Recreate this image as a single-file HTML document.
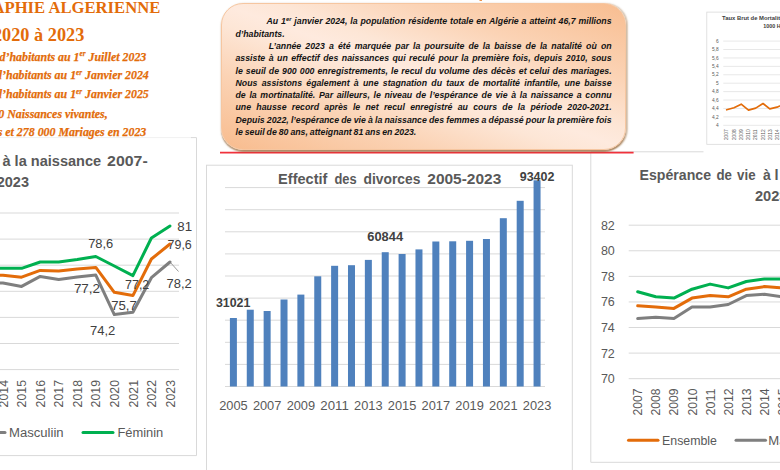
<!DOCTYPE html>
<html><head><meta charset="utf-8"><title>Démographie algérienne</title>
<style>
html,body{margin:0;padding:0;background:#fff;}
#page{position:relative;width:780px;height:470px;overflow:hidden;background:#fff;font-family:"Liberation Sans",sans-serif;}
#page svg{position:absolute;left:0;top:0;}
svg text{font-family:"Liberation Sans",sans-serif;}
svg .sf text{font-family:"Liberation Serif",serif;}
#box{position:absolute;left:221px;top:3px;width:404.5px;height:146.5px;border:1px solid #F6C6A0;border-radius:22px;box-sizing:border-box;
 background:linear-gradient(to top right,#F8BC8E 0%,#FBD3B5 26%,#FDE6D6 43%,#FEEADE 50%,#FDE6D6 57%,#FBD3B5 74%,#F8BD90 100%);
 box-shadow:0 2px 1.5px rgba(140,90,40,0.6),1.5px 0.5px 1.5px rgba(150,100,50,0.35);}
.pl{position:absolute;white-space:nowrap;font-size:8.75px;line-height:12px;height:12px;font-weight:bold;font-style:italic;color:#141414;word-spacing:-0.5px;}
.pl sup{font-size:5.8px;line-height:0;vertical-align:3px;}
</style></head>
<body><div id="page">
<svg width="780" height="470" viewBox="0 0 780 470">
<rect x="706.8" y="12.1" width="100" height="132.2" fill="#fff" stroke="#D9D9D9" stroke-width="0.8"/>
<line x1="723.3" x2="790" y1="41.10" y2="41.10" stroke="#D9D9D9" stroke-width="0.6"/>
<text x="718.6" y="42.80" font-size="4.8" fill="#595959" text-anchor="end">6</text>
<line x1="723.3" x2="790" y1="49.52" y2="49.52" stroke="#D9D9D9" stroke-width="0.6"/>
<text x="718.6" y="51.22" font-size="4.8" fill="#595959" text-anchor="end">5,8</text>
<line x1="723.3" x2="790" y1="57.94" y2="57.94" stroke="#D9D9D9" stroke-width="0.6"/>
<text x="718.6" y="59.64" font-size="4.8" fill="#595959" text-anchor="end">5,6</text>
<line x1="723.3" x2="790" y1="66.36" y2="66.36" stroke="#D9D9D9" stroke-width="0.6"/>
<text x="718.6" y="68.06" font-size="4.8" fill="#595959" text-anchor="end">5,4</text>
<line x1="723.3" x2="790" y1="74.78" y2="74.78" stroke="#D9D9D9" stroke-width="0.6"/>
<text x="718.6" y="76.48" font-size="4.8" fill="#595959" text-anchor="end">5,2</text>
<line x1="723.3" x2="790" y1="83.20" y2="83.20" stroke="#D9D9D9" stroke-width="0.6"/>
<text x="718.6" y="84.90" font-size="4.8" fill="#595959" text-anchor="end">5</text>
<line x1="723.3" x2="790" y1="91.62" y2="91.62" stroke="#D9D9D9" stroke-width="0.6"/>
<text x="718.6" y="93.32" font-size="4.8" fill="#595959" text-anchor="end">4,8</text>
<line x1="723.3" x2="790" y1="100.04" y2="100.04" stroke="#D9D9D9" stroke-width="0.6"/>
<text x="718.6" y="101.74" font-size="4.8" fill="#595959" text-anchor="end">4,6</text>
<line x1="723.3" x2="790" y1="108.46" y2="108.46" stroke="#D9D9D9" stroke-width="0.6"/>
<text x="718.6" y="110.16" font-size="4.8" fill="#595959" text-anchor="end">4,4</text>
<line x1="723.3" x2="790" y1="116.88" y2="116.88" stroke="#D9D9D9" stroke-width="0.6"/>
<text x="718.6" y="118.58" font-size="4.8" fill="#595959" text-anchor="end">4,2</text>
<line x1="723.3" x2="790" y1="125.30" y2="125.30" stroke="#D9D9D9" stroke-width="0.6"/>
<text x="718.6" y="127.00" font-size="4.8" fill="#595959" text-anchor="end">4</text>
<text x="722.1" y="19.6" font-size="5.4" font-weight="bold" fill="#404040" textLength="78" lengthAdjust="spacingAndGlyphs">Taux Brut de Mortalité (pour</text>
<text x="763.3" y="27.6" font-size="5.4" font-weight="bold" fill="#404040">1000 Hab.)</text>
<polyline points="726.7,109.8 734,107.7 741.2,104.2 748.5,110.1 755.7,108.1 763,103.5 769.8,108.9 777,107.2 784.2,104" fill="none" stroke="#E36C0A" stroke-width="1.7" stroke-linejoin="round" stroke-linecap="round"/>
<text transform="translate(728.4,140.1) rotate(-90)" font-size="4.8" fill="#595959" textLength="10.7" lengthAdjust="spacingAndGlyphs">2007</text>
<text transform="translate(735.7,140.1) rotate(-90)" font-size="4.8" fill="#595959" textLength="10.7" lengthAdjust="spacingAndGlyphs">2008</text>
<text transform="translate(742.9,140.1) rotate(-90)" font-size="4.8" fill="#595959" textLength="10.7" lengthAdjust="spacingAndGlyphs">2009</text>
<text transform="translate(750.2,140.1) rotate(-90)" font-size="4.8" fill="#595959" textLength="10.7" lengthAdjust="spacingAndGlyphs">2010</text>
<text transform="translate(757.4,140.1) rotate(-90)" font-size="4.8" fill="#595959" textLength="10.7" lengthAdjust="spacingAndGlyphs">2011</text>
<text transform="translate(764.7,140.1) rotate(-90)" font-size="4.8" fill="#595959" textLength="10.7" lengthAdjust="spacingAndGlyphs">2012</text>
<text transform="translate(771.5,140.1) rotate(-90)" font-size="4.8" fill="#595959" textLength="10.7" lengthAdjust="spacingAndGlyphs">2013</text>
<text transform="translate(778.7,140.1) rotate(-90)" font-size="4.8" fill="#595959" textLength="10.7" lengthAdjust="spacingAndGlyphs">2014</text>
<text transform="translate(785.9,140.1) rotate(-90)" font-size="4.8" fill="#595959" textLength="10.7" lengthAdjust="spacingAndGlyphs">2015</text>
<path d="M590.8 152 V462.3 H800" fill="none" stroke="#D9D9D9" stroke-width="1"/>
<line x1="590.8" x2="703.5" y1="151.8" y2="151.8" stroke="#D9D9D9" stroke-width="1"/>
<line x1="628.7" x2="800" y1="225.20" y2="225.20" stroke="#D9D9D9" stroke-width="1"/>
<text x="614.8" y="229.70" font-size="12.5" fill="#595959" text-anchor="end">82</text>
<line x1="628.7" x2="800" y1="250.78" y2="250.78" stroke="#D9D9D9" stroke-width="1"/>
<text x="614.8" y="255.28" font-size="12.5" fill="#595959" text-anchor="end">80</text>
<line x1="628.7" x2="800" y1="276.36" y2="276.36" stroke="#D9D9D9" stroke-width="1"/>
<text x="614.8" y="280.86" font-size="12.5" fill="#595959" text-anchor="end">78</text>
<line x1="628.7" x2="800" y1="301.94" y2="301.94" stroke="#D9D9D9" stroke-width="1"/>
<text x="614.8" y="306.44" font-size="12.5" fill="#595959" text-anchor="end">76</text>
<line x1="628.7" x2="800" y1="327.52" y2="327.52" stroke="#D9D9D9" stroke-width="1"/>
<text x="614.8" y="332.02" font-size="12.5" fill="#595959" text-anchor="end">74</text>
<line x1="628.7" x2="800" y1="353.10" y2="353.10" stroke="#D9D9D9" stroke-width="1"/>
<text x="614.8" y="357.60" font-size="12.5" fill="#595959" text-anchor="end">72</text>
<line x1="628.7" x2="800" y1="378.68" y2="378.68" stroke="#D9D9D9" stroke-width="1"/>
<text x="614.8" y="383.18" font-size="12.5" fill="#595959" text-anchor="end">70</text>
<polyline points="637.7,318.6 655.8,317.3 673.9,318.6 692.0,307.1 710.1,307.1 728.2,304.5 746.3,295.6 764.4,294.3 782.5,296.8" fill="none" stroke="#7F7F7F" stroke-width="3" stroke-linejoin="round" stroke-linecap="round"/>
<polyline points="637.7,305.8 655.8,307.1 673.9,308.4 692.0,298.1 710.1,295.6 728.2,296.8 746.3,289.2 764.4,286.6 782.5,287.9" fill="none" stroke="#E36C0A" stroke-width="3" stroke-linejoin="round" stroke-linecap="round"/>
<polyline points="637.7,291.7 655.8,296.8 673.9,298.1 692.0,289.2 710.1,284.1 728.2,287.9 746.3,281.5 764.4,278.9 782.5,278.9" fill="none" stroke="#00B050" stroke-width="3" stroke-linejoin="round" stroke-linecap="round"/>
<text transform="translate(642.2,415.4) rotate(-90)" font-size="12.5" fill="#595959" textLength="27" lengthAdjust="spacingAndGlyphs">2007</text>
<text transform="translate(660.3,415.4) rotate(-90)" font-size="12.5" fill="#595959" textLength="27" lengthAdjust="spacingAndGlyphs">2008</text>
<text transform="translate(678.4,415.4) rotate(-90)" font-size="12.5" fill="#595959" textLength="27" lengthAdjust="spacingAndGlyphs">2009</text>
<text transform="translate(696.5,415.4) rotate(-90)" font-size="12.5" fill="#595959" textLength="27" lengthAdjust="spacingAndGlyphs">2010</text>
<text transform="translate(714.6,415.4) rotate(-90)" font-size="12.5" fill="#595959" textLength="27" lengthAdjust="spacingAndGlyphs">2011</text>
<text transform="translate(732.7,415.4) rotate(-90)" font-size="12.5" fill="#595959" textLength="27" lengthAdjust="spacingAndGlyphs">2012</text>
<text transform="translate(750.8,415.4) rotate(-90)" font-size="12.5" fill="#595959" textLength="27" lengthAdjust="spacingAndGlyphs">2013</text>
<text transform="translate(768.9,415.4) rotate(-90)" font-size="12.5" fill="#595959" textLength="27" lengthAdjust="spacingAndGlyphs">2014</text>
<text transform="translate(787.0,415.4) rotate(-90)" font-size="12.5" fill="#595959" textLength="27" lengthAdjust="spacingAndGlyphs">2015</text>
<text x="639.5" y="179.7" font-size="14.6" font-weight="bold" fill="#595959" textLength="71.5" lengthAdjust="spacingAndGlyphs">Espérance</text>
<text x="716.4" y="179.7" font-size="14.6" font-weight="bold" fill="#595959" textLength="15.5" lengthAdjust="spacingAndGlyphs">de</text>
<text x="737.1" y="179.7" font-size="14.6" font-weight="bold" fill="#595959" textLength="18.5" lengthAdjust="spacingAndGlyphs">vie</text>
<text x="763.1" y="179.7" font-size="14.6" font-weight="bold" fill="#595959" textLength="7.8" lengthAdjust="spacingAndGlyphs">à</text>
<text x="774.6" y="179.7" font-size="14.6" font-weight="bold" fill="#595959">l</text>
<text x="755" y="200.8" font-size="14.6" font-weight="bold" fill="#595959">2023</text>
<line x1="628.5" x2="658" y1="440.3" y2="440.3" stroke="#E36C0A" stroke-width="3" stroke-linecap="round"/>
<text x="662" y="444.8" font-size="12.5" fill="#595959" textLength="55" lengthAdjust="spacingAndGlyphs">Ensemble</text>
<line x1="736" x2="765.5" y1="440.3" y2="440.3" stroke="#7F7F7F" stroke-width="3" stroke-linecap="round"/>
<text x="768.3" y="444.8" font-size="12.5" fill="#595959" textLength="54.6" lengthAdjust="spacingAndGlyphs">Masculiin</text>
<rect x="206.5" y="165.2" width="365.8" height="330" fill="#fff" stroke="#D9D9D9" stroke-width="1"/>
<line x1="225" x2="545" y1="187.60" y2="187.60" stroke="#D9D9D9" stroke-width="1"/>
<line x1="225" x2="545" y1="209.70" y2="209.70" stroke="#D9D9D9" stroke-width="1"/>
<line x1="225" x2="545" y1="231.80" y2="231.80" stroke="#D9D9D9" stroke-width="1"/>
<line x1="225" x2="545" y1="253.90" y2="253.90" stroke="#D9D9D9" stroke-width="1"/>
<line x1="225" x2="545" y1="276.00" y2="276.00" stroke="#D9D9D9" stroke-width="1"/>
<line x1="225" x2="545" y1="298.10" y2="298.10" stroke="#D9D9D9" stroke-width="1"/>
<line x1="225" x2="545" y1="320.20" y2="320.20" stroke="#D9D9D9" stroke-width="1"/>
<line x1="225" x2="545" y1="342.30" y2="342.30" stroke="#D9D9D9" stroke-width="1"/>
<line x1="225" x2="545" y1="364.40" y2="364.40" stroke="#D9D9D9" stroke-width="1"/>
<line x1="225" x2="545" y1="386.50" y2="386.50" stroke="#D9D9D9" stroke-width="1"/>
<rect x="229.90" y="318" width="7" height="68.5" fill="#4F81BD"/>
<rect x="246.77" y="309.7" width="7" height="76.8" fill="#4F81BD"/>
<rect x="263.64" y="311" width="7" height="75.5" fill="#4F81BD"/>
<rect x="280.51" y="299.5" width="7" height="87.0" fill="#4F81BD"/>
<rect x="297.38" y="294.6" width="7" height="91.9" fill="#4F81BD"/>
<rect x="314.25" y="276.3" width="7" height="110.2" fill="#4F81BD"/>
<rect x="331.12" y="265.8" width="7" height="120.7" fill="#4F81BD"/>
<rect x="347.99" y="265.2" width="7" height="121.3" fill="#4F81BD"/>
<rect x="364.86" y="259.9" width="7" height="126.6" fill="#4F81BD"/>
<rect x="381.73" y="252.2" width="7" height="134.3" fill="#4F81BD"/>
<rect x="398.60" y="254" width="7" height="132.5" fill="#4F81BD"/>
<rect x="415.47" y="249.4" width="7" height="137.1" fill="#4F81BD"/>
<rect x="432.34" y="241.5" width="7" height="145.0" fill="#4F81BD"/>
<rect x="449.21" y="241.3" width="7" height="145.2" fill="#4F81BD"/>
<rect x="466.08" y="240.8" width="7" height="145.7" fill="#4F81BD"/>
<rect x="482.95" y="239" width="7" height="147.5" fill="#4F81BD"/>
<rect x="499.82" y="218.2" width="7" height="168.3" fill="#4F81BD"/>
<rect x="516.69" y="200.8" width="7" height="185.7" fill="#4F81BD"/>
<rect x="533.56" y="180.3" width="7" height="206.2" fill="#4F81BD"/>
<text x="219.15" y="410.3" font-size="13" fill="#595959" textLength="28.5" lengthAdjust="spacingAndGlyphs">2005</text>
<text x="252.89" y="410.3" font-size="13" fill="#595959" textLength="28.5" lengthAdjust="spacingAndGlyphs">2007</text>
<text x="286.63" y="410.3" font-size="13" fill="#595959" textLength="28.5" lengthAdjust="spacingAndGlyphs">2009</text>
<text x="320.37" y="410.3" font-size="13" fill="#595959" textLength="28.5" lengthAdjust="spacingAndGlyphs">2011</text>
<text x="354.11" y="410.3" font-size="13" fill="#595959" textLength="28.5" lengthAdjust="spacingAndGlyphs">2013</text>
<text x="387.85" y="410.3" font-size="13" fill="#595959" textLength="28.5" lengthAdjust="spacingAndGlyphs">2015</text>
<text x="421.59" y="410.3" font-size="13" fill="#595959" textLength="28.5" lengthAdjust="spacingAndGlyphs">2017</text>
<text x="455.33" y="410.3" font-size="13" fill="#595959" textLength="28.5" lengthAdjust="spacingAndGlyphs">2019</text>
<text x="489.07" y="410.3" font-size="13" fill="#595959" textLength="28.5" lengthAdjust="spacingAndGlyphs">2021</text>
<text x="522.81" y="410.3" font-size="13" fill="#595959" textLength="28.5" lengthAdjust="spacingAndGlyphs">2023</text>
<text x="278.09999999999997" y="183.8" font-size="14.5" font-weight="bold" fill="#595959" textLength="49.3" lengthAdjust="spacingAndGlyphs">Effectif</text>
<text x="334.4" y="183.8" font-size="14.5" font-weight="bold" fill="#595959" textLength="22.2" lengthAdjust="spacingAndGlyphs">des</text>
<text x="363.59999999999997" y="183.8" font-size="14.5" font-weight="bold" fill="#595959" textLength="56.8" lengthAdjust="spacingAndGlyphs">divorces</text>
<text x="427.29999999999995" y="183.8" font-size="14.5" font-weight="bold" fill="#595959" textLength="74.0" lengthAdjust="spacingAndGlyphs">2005-2023</text>
<text x="215.9" y="307.2" font-size="12.5" font-weight="bold" fill="#404040" textLength="34.4" lengthAdjust="spacingAndGlyphs">31021</text>
<text x="367.3" y="240.6" font-size="12.5" font-weight="bold" fill="#404040" textLength="35.8" lengthAdjust="spacingAndGlyphs">60844</text>
<text x="519.7" y="180.8" font-size="12.5" font-weight="bold" fill="#404040" textLength="34.7" lengthAdjust="spacingAndGlyphs">93402</text>
<path d="M-20 137.6 H192" fill="none" stroke="#F1F1F1" stroke-width="1"/>
<path d="M191 137.6 H196.5 V455.6 H-20" fill="none" stroke="#D9D9D9" stroke-width="1"/>
<line x1="-20" x2="179" y1="213.00" y2="213.00" stroke="#D9D9D9" stroke-width="1"/>
<line x1="-20" x2="179" y1="239.10" y2="239.10" stroke="#D9D9D9" stroke-width="1"/>
<line x1="-20" x2="179" y1="265.20" y2="265.20" stroke="#D9D9D9" stroke-width="1"/>
<line x1="-20" x2="179" y1="291.30" y2="291.30" stroke="#D9D9D9" stroke-width="1"/>
<line x1="-20" x2="179" y1="317.40" y2="317.40" stroke="#D9D9D9" stroke-width="1"/>
<line x1="-20" x2="179" y1="343.50" y2="343.50" stroke="#D9D9D9" stroke-width="1"/>
<line x1="-20" x2="179" y1="369.60" y2="369.60" stroke="#D9D9D9" stroke-width="1"/>
<line x1="170" y1="262" x2="178.5" y2="271.5" stroke="#9A9A9A" stroke-width="1"/>
<polyline points="-15.5,282.3 3.0,283 21.6,286.4 40.2,276.4 58.7,279.5 77.2,277 95.8,275.1 114.3,314.6 132.9,312.3 151.4,277.7 170.0,262" fill="none" stroke="#7F7F7F" stroke-width="3" stroke-linejoin="round" stroke-linecap="round"/>
<polyline points="-15.5,276.2 3.0,275.2 21.6,277.2 40.2,270.4 58.7,270.9 77.2,268.9 95.8,267.4 114.3,292.3 132.9,295.6 151.4,259 170.0,244" fill="none" stroke="#E36C0A" stroke-width="3" stroke-linejoin="round" stroke-linecap="round"/>
<polyline points="-15.5,268.5 3.0,268.3 21.6,268.3 40.2,262 58.7,262 77.2,259.6 95.8,256.5 114.3,266 132.9,275.6 151.4,238 170.0,226" fill="none" stroke="#00B050" stroke-width="3" stroke-linejoin="round" stroke-linecap="round"/>
<text x="88.2" y="248.2" font-size="13" fill="#404040" textLength="25.1" lengthAdjust="spacingAndGlyphs">78,6</text>
<text x="167.6" y="249.1" font-size="13" fill="#404040" textLength="24.2" lengthAdjust="spacingAndGlyphs">79,6</text>
<text x="125.0" y="289" font-size="13" fill="#404040" textLength="24.3" lengthAdjust="spacingAndGlyphs">77,2</text>
<text x="73.9" y="293.2" font-size="13" fill="#404040" textLength="26.2" lengthAdjust="spacingAndGlyphs">77,2</text>
<text x="111.2" y="310" font-size="13" fill="#404040" textLength="25.7" lengthAdjust="spacingAndGlyphs">75,7</text>
<text x="166.6" y="287.8" font-size="13" fill="#404040" textLength="25.2" lengthAdjust="spacingAndGlyphs">78,2</text>
<text x="89.9" y="334.6" font-size="13" fill="#404040" textLength="25.4" lengthAdjust="spacingAndGlyphs">74,2</text>
<text x="177.3" y="230.6" font-size="13" fill="#404040" textLength="14.8" lengthAdjust="spacingAndGlyphs">81</text>
<text transform="translate(-10.9,407.4) rotate(-90)" font-size="12.5" fill="#595959" textLength="27.4" lengthAdjust="spacingAndGlyphs">2013</text>
<text transform="translate(7.6,407.4) rotate(-90)" font-size="12.5" fill="#595959" textLength="27.4" lengthAdjust="spacingAndGlyphs">2014</text>
<text transform="translate(26.2,407.4) rotate(-90)" font-size="12.5" fill="#595959" textLength="27.4" lengthAdjust="spacingAndGlyphs">2015</text>
<text transform="translate(44.8,407.4) rotate(-90)" font-size="12.5" fill="#595959" textLength="27.4" lengthAdjust="spacingAndGlyphs">2016</text>
<text transform="translate(63.3,407.4) rotate(-90)" font-size="12.5" fill="#595959" textLength="27.4" lengthAdjust="spacingAndGlyphs">2017</text>
<text transform="translate(81.8,407.4) rotate(-90)" font-size="12.5" fill="#595959" textLength="27.4" lengthAdjust="spacingAndGlyphs">2018</text>
<text transform="translate(100.4,407.4) rotate(-90)" font-size="12.5" fill="#595959" textLength="27.4" lengthAdjust="spacingAndGlyphs">2019</text>
<text transform="translate(118.9,407.4) rotate(-90)" font-size="12.5" fill="#595959" textLength="27.4" lengthAdjust="spacingAndGlyphs">2020</text>
<text transform="translate(137.5,407.4) rotate(-90)" font-size="12.5" fill="#595959" textLength="27.4" lengthAdjust="spacingAndGlyphs">2021</text>
<text transform="translate(156.0,407.4) rotate(-90)" font-size="12.5" fill="#595959" textLength="27.4" lengthAdjust="spacingAndGlyphs">2022</text>
<text transform="translate(174.6,407.4) rotate(-90)" font-size="12.5" fill="#595959" textLength="27.4" lengthAdjust="spacingAndGlyphs">2023</text>
<line x1="-20" x2="5" y1="432.5" y2="432.5" stroke="#7F7F7F" stroke-width="3" stroke-linecap="round"/>
<text x="9" y="437" font-size="12.5" fill="#595959" textLength="54.6" lengthAdjust="spacingAndGlyphs">Masculiin</text>
<line x1="83" x2="113" y1="432.5" y2="432.5" stroke="#00B050" stroke-width="3" stroke-linecap="round"/>
<text x="117.4" y="437" font-size="12.5" fill="#595959" textLength="45.9" lengthAdjust="spacingAndGlyphs">Féminin</text>
<text x="2.5" y="166" font-size="14.5" font-weight="bold" fill="#595959" textLength="98.6" lengthAdjust="spacingAndGlyphs">à la naissance</text>
<text x="107.10000000000001" y="166" font-size="14.5" font-weight="bold" fill="#595959" textLength="40.6" lengthAdjust="spacingAndGlyphs">2007-</text>
<text x="29" y="187.2" font-size="14.5" font-weight="bold" fill="#595959" text-anchor="end">2023</text>
<g class="sf" font-weight="bold" fill="#E36C0A">
<text x="-7.5" y="13" font-size="17.6" textLength="167.8" lengthAdjust="spacingAndGlyphs">APHIE ALGERIENNE</text>
<text x="84.3" y="41" font-size="18.3" text-anchor="end">2020 à 2023</text>
<g font-style="italic" font-size="11.9" text-anchor="end" stroke="#E36C0A" stroke-width="0.25">
<text x="146.3" y="60.5">46,7 millions d’habitants au 1<tspan font-size="7.2" dy="-4.2">er</tspan><tspan dy="4.2"> </tspan>Juillet 2023</text>
<text x="148.8" y="79.2">46,7 millions d’habitants au 1<tspan font-size="7.2" dy="-4.2">er</tspan><tspan dy="4.2"> </tspan>Janvier 2024</text>
<text x="148.8" y="97.9">47,4 millions d’habitants au 1<tspan font-size="7.2" dy="-4.2">er</tspan><tspan dy="4.2"> </tspan>Janvier 2025</text>
<text x="107.6" y="117.5">895 000 Naissances vivantes,</text>
<text x="146.3" y="136.3">197 000 Décès et 278 000 Mariages en 2023</text>
</g></g>
<rect x="479.5" y="0" width="2.5" height="0.9" fill="#E36C0A" opacity="0.8"/>
<line x1="220" x2="633.6" y1="152.6" y2="152.6" stroke="#F0323C" stroke-width="1.6"/>
</svg>
<div id="box"></div>
<div class="pl" style="left:266.5px;top:15.4px;width:345.1px;text-align:justify;text-align-last:justify;">Au 1<sup>er</sup> janvier 2024, la population résidente totale en Algérie a atteint 46,7 millions</div>
<div class="pl" style="left:235.5px;top:27.7px;">d’habitants.</div>
<div class="pl" style="left:268.8px;top:39.9px;width:342.8px;text-align:justify;text-align-last:justify;">L’année 2023 a été marquée par la poursuite de la baisse de la natalité où on</div>
<div class="pl" style="left:235.5px;top:52.2px;width:376.1px;text-align:justify;text-align-last:justify;">assiste à un effectif des naissances qui reculé pour la première fois, depuis 2010, sous</div>
<div class="pl" style="left:235.5px;top:64.5px;width:376.1px;text-align:justify;text-align-last:justify;">le seuil de 900 000 enregistrements, le recul du volume des décès et celui des mariages.</div>
<div class="pl" style="left:235.5px;top:76.8px;width:376.1px;text-align:justify;text-align-last:justify;">Nous assistons également à une stagnation du taux de mortalité infantile, une baisse</div>
<div class="pl" style="left:235.5px;top:89.0px;width:376.1px;text-align:justify;text-align-last:justify;">de la mortinatalité. Par ailleurs, le niveau de l’espérance de vie à la naissance a connu</div>
<div class="pl" style="left:235.5px;top:101.3px;width:376.1px;text-align:justify;text-align-last:justify;">une hausse record après le net recul enregistré au cours de la période 2020-2021.</div>
<div class="pl" style="left:235.5px;top:113.6px;width:376.1px;text-align:justify;text-align-last:justify;">Depuis 2022, l’espérance de vie à la naissance des femmes a dépassé pour la première fois</div>
<div class="pl" style="left:235.5px;top:125.8px;">le seuil de 80 ans, atteignant 81 ans en 2023.</div>
</div></body></html>
